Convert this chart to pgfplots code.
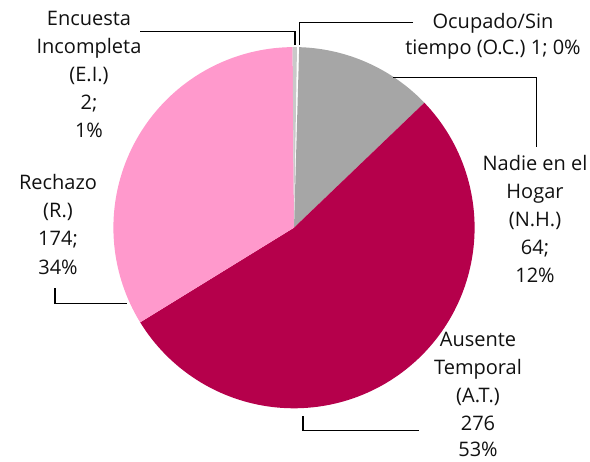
\documentclass[border=0pt]{standalone}
\usepackage{pgfplots}
\pgfplotsset{compat=1.18}
\usepackage{fontspec}
\setmainfont{Open Sans}
\definecolor{cOC}{HTML}{FFFFFF}
\definecolor{cNH}{HTML}{A6A6A6}
\definecolor{cAT}{HTML}{B5004B}
\definecolor{cR}{HTML}{FF99CC}
\definecolor{cEI}{HTML}{C9C9C9}
\definecolor{txt}{HTML}{111111}
% data (clockwise from top)
\def\vOC{1}\def\vNH{64}\def\vAT{276}\def\vR{174}\def\vEI{2}
\pgfmathsetmacro\tot{\vOC+\vNH+\vAT+\vR+\vEI}
\pgfmathsetmacro\unit{360/\tot}
\def\start{89.05}
\pgfmathsetmacro\aA{\start}
\pgfmathsetmacro\aB{\aA-\unit*\vOC}
\pgfmathsetmacro\aC{\aB-\unit*\vNH}
\pgfmathsetmacro\aD{\aC-\unit*\vAT}
\pgfmathsetmacro\aE{\aD-\unit*\vR}
\pgfmathsetmacro\aF{\aE-\unit*\vEI}
\def\cx{294}\def\cy{233.3}\def\rr{180.6}
\newcommand\lab[3]{\node[anchor=base,inner sep=0pt,text=txt,font=\fontsize{20bp}{24bp}\selectfont] at (axis cs:#1,#2) {#3};}
\newcommand\slice[3]{\addplot[fill=#1,draw=none,domain=#2:#3,samples=120,variable=\t] ({\cx+\rr*cos(\t)},{\cy+\rr*sin(\t)}) -- (axis cs:\cx,\cy) -- cycle;}
\begin{document}
\begin{tikzpicture}
\begin{axis}[name=ax,width=590bp,height=461bp,scale only axis,xmin=0,xmax=590,ymin=0,ymax=461,hide axis,clip=false]
\slice{cOC}{\aB}{\aA}
\slice{cNH}{\aC}{\aB}
\slice{cAT}{\aD}{\aC}
\slice{cR}{\aE}{\aD}
\slice{cEI}{\aF}{\aE}
% leader lines
\addplot[black,line width=1.5bp,mark=none] coordinates {(140,429.5) (295,429.5) (295,416)};
\addplot[black,line width=1.5bp,mark=none] coordinates {(413,438.5) (299.3,438.5) (299.3,416)};
\addplot[black,line width=1.5bp,mark=none] coordinates {(393,383.3) (536.7,383.3) (536.7,314.3)};
\addplot[black,line width=1.5bp,mark=none] coordinates {(55,173) (55,157.5) (127,157.5)};
\addplot[black,line width=1.5bp,mark=none] coordinates {(303,45) (303,30.5) (419,30.5)};
% labels
\lab{89}{435}{Encuesta}
\lab{89}{407.2}{Incompleta}
\lab{89}{379.3}{(E.I.)}
\lab{89}{351.4}{2;}
\lab{89}{323.5}{1\%}
\lab{493}{432.7}{Ocupado/Sin}
\lab{493}{406.2}{tiempo (O.C.) 1; 0\%}
\lab{535}{290.3}{Nadie en el}
\lab{535}{262.5}{Hogar}
\lab{535}{234.7}{(N.H.)}
\lab{535}{207}{64;}
\lab{535}{179}{12\%}
\lab{58}{271}{Rechazo}
\lab{58}{243}{(R.)}
\lab{58}{215}{174;}
\lab{58}{186.5}{34\%}
\lab{478}{114.3}{Ausente}
\lab{478}{86.5}{Temporal}
\lab{478}{58.7}{(A.T.)}
\lab{478}{31}{276}
\lab{478}{4.5}{53\%}
\end{axis}
\pgfresetboundingbox
\path (ax.south west) rectangle (ax.north east);
\end{tikzpicture}
\end{document}
